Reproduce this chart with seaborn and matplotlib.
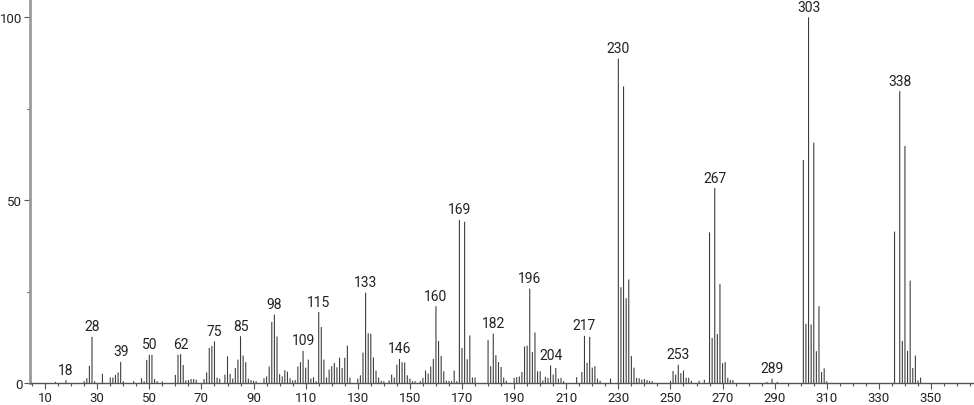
import numpy as np
import pandas as pd
import seaborn as sns
import matplotlib.pyplot as plt

# m/z values and relative intensities
mz = [14, 18, 25, 26, 27, 28, 29, 32, 35, 36, 37, 38, 39, 40, 44, 47, 48, 49, 50, 51,
      52, 53, 55, 60, 61, 62, 63, 64, 65, 66, 67, 68, 71, 72, 73, 74, 75, 76, 77, 79,
      80, 81, 82, 83, 84, 85, 86, 87, 88, 89, 90, 91, 94, 95, 96, 97, 98, 99, 100, 101,
      102, 103, 104, 105, 106, 107, 108, 109, 110, 111, 112, 113, 114, 115, 116, 117, 118, 119, 120, 121,
      122, 123, 124, 125, 126, 127, 130, 131, 132, 133, 134, 135, 136, 137, 138, 139, 140, 142, 143, 144,
      145, 146, 147, 148, 149, 150, 151, 152, 154, 155, 156, 157, 158, 159, 160, 161, 162, 163, 164, 165,
      166, 167, 168, 169, 170, 171, 172, 173, 174, 175, 180, 181, 182, 183, 184, 185, 186, 187, 190, 191,
      192, 193, 194, 195, 196, 197, 198, 199, 200, 201, 202, 203, 204, 205, 206, 207, 208, 209, 214, 216,
      217, 218, 219, 220, 221, 222, 223, 227, 230, 231, 232, 233, 234, 235, 236, 237, 238, 239, 240, 241,
      242, 243, 250, 251, 252, 253, 254, 255, 256, 257, 258, 261, 263, 265, 266, 267, 268, 269, 270, 271,
      272, 273, 274, 287, 289, 291, 301, 302, 303, 304, 305, 306, 307, 308, 309, 310, 336, 338, 339, 340,
      341, 342, 343, 344, 345, 346]
intensity = [0.3, 0.8, 0.5, 1.3, 4.7, 12.6, 0.5, 2.5, 1.5, 1.5, 2.2, 2.9, 5.8, 0.5, 0.5, 1.3, 0.5, 6.3, 7.7, 7.7,
             1.1, 0.5, 0.4, 2.2, 7.7, 7.9, 4.9, 0.7, 0.8, 1.1, 1.1, 0.9, 1.1, 2.9, 9.6, 10.1, 11.4, 1.5, 1.2, 2.3,
             7.3, 2.5, 1.2, 4.1, 6.4, 12.8, 7.5, 5.7, 1.2, 0.8, 0.6, 0.5, 1.3, 1.8, 4.5, 16.7, 18.7, 12.7, 2.4, 1.8,
             3.5, 3.1, 1.3, 0.7, 0.8, 4.5, 5.7, 8.8, 4.2, 6.4, 1.2, 1.6, 0.5, 19.4, 15.3, 6.4, 1.5, 3.7, 4.6, 5.5,
             4.3, 6.9, 4.1, 6.9, 10.2, 1.5, 1.2, 2.1, 8.3, 24.7, 13.6, 13.5, 7.0, 3.4, 1.5, 0.6, 0.5, 0.7, 2.3, 1.5,
             5.0, 6.6, 5.7, 5.6, 2.1, 1.2, 0.5, 0.5, 0.5, 1.4, 3.4, 2.6, 4.5, 6.6, 21.0, 11.5, 7.4, 3.2, 0.6, 0.6,
             0.5, 3.4, 0.5, 44.6, 9.6, 44.1, 6.5, 13.0, 1.5, 1.5, 11.8, 4.6, 13.5, 7.6, 5.7, 4.4, 1.5, 0.6, 1.4, 1.6,
             1.8, 3.0, 10.0, 10.2, 25.8, 8.5, 13.8, 3.2, 3.2, 0.7, 1.7, 1.4, 4.8, 2.3, 4.1, 1.2, 1.4, 0.5, 1.6, 3.0,
             12.9, 5.5, 12.6, 4.2, 4.6, 1.2, 0.6, 1.2, 88.7, 26.2, 81.1, 23.2, 28.3, 7.4, 4.2, 1.4, 1.3, 0.9, 1.1, 0.8,
             0.6, 0.5, 0.6, 3.3, 2.3, 5.0, 2.7, 3.4, 1.4, 1.4, 0.6, 0.6, 0.9, 41.2, 12.3, 53.3, 13.4, 27.1, 5.4, 5.7,
             1.4, 0.8, 0.8, 0.3, 1.2, 0.3, 61.0, 16.2, 100.0, 16.0, 65.7, 8.7, 21.0, 3.0, 4.0, 0.5, 41.4, 79.8, 11.5, 64.8,
             8.8, 28.0, 4.1, 7.5, 0.7, 1.5]

labeled = [18, 28, 39, 50, 62, 75, 85, 98, 109, 115, 133, 146, 160, 169, 182, 196, 204,
           217, 230, 253, 267, 289, 303, 338]

df = pd.DataFrame({'mz': mz, 'intensity': intensity})

sns.set_theme(style="white")
plt.rcParams['font.family'] = ['Roboto', 'DejaVu Sans']

fig = plt.figure(figsize=(9.74, 4.06), dpi=100)
ax = fig.add_axes([30 / 974, 22 / 406, 944 / 974, 384 / 406])

sns.barplot(data=df, x='mz', y='intensity', native_scale=True, width=0.42,
            color='#3c3c3c', saturation=1, linewidth=0, errorbar=None, ax=ax)
# keep every stick about one pixel wide instead of letting snapping drop or double them
for bar in ax.patches:
    bar.set_snap(False)

lookup = dict(zip(mz, intensity))
for m in labeled:
    ax.annotate(str(m), (m, lookup[m]), xytext=(0, 2.5), textcoords='offset points',
                ha='center', va='bottom', fontsize=10, color='#222222')

ax.set_xlim(4.2, 366.5)
ax.set_ylim(0, 105)
ax.set_xticks(range(10, 351, 20))
ax.set_xticks(range(5, 366, 5), minor=True)
ax.set_yticks([0, 50, 100])
ax.set_yticks([25, 75], minor=True)
ax.tick_params(axis='both', which='both', bottom=True, left=True, color='#555555',
               labelsize=9.5, labelcolor='#222222')
ax.tick_params(which='major', length=4, width=0.8, pad=1.5)
ax.tick_params(which='minor', length=2, width=0.8)
ax.set_xlabel('')
ax.set_ylabel('')

sns.despine(ax=ax)
ax.spines['left'].set_color('#9a9a9a')
ax.spines['left'].set_linewidth(2)
ax.spines['bottom'].set_color('#555555')
ax.spines['bottom'].set_linewidth(1)

fig.savefig('out.png', dpi=100)
